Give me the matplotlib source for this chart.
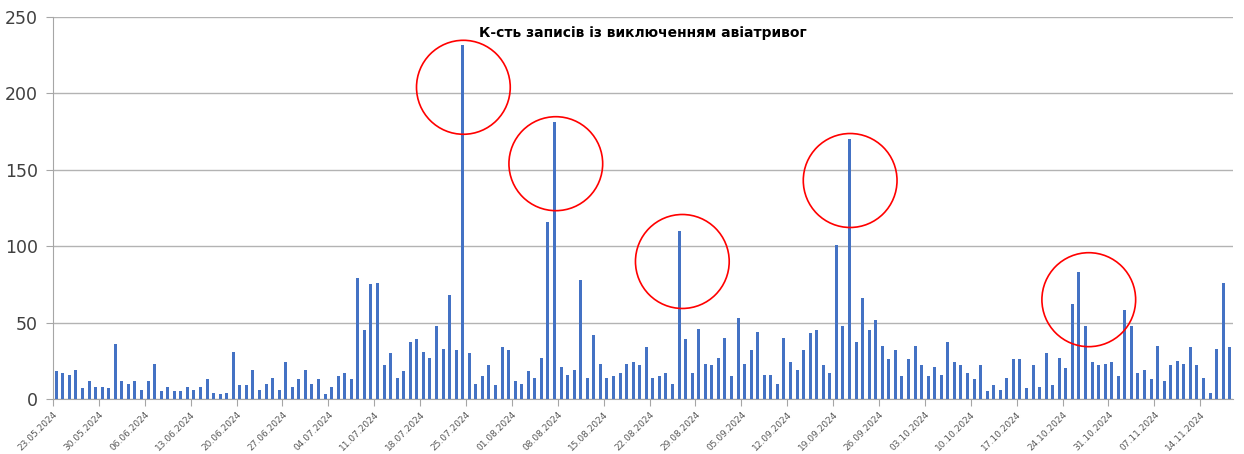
import numpy as np
import pandas as pd
import matplotlib
matplotlib.use("Agg")
import matplotlib.pyplot as plt
from matplotlib.patches import Ellipse

# Дані: кількість записів по днях, починаючи з 23.05.2024
start_date = "2024-05-23"
counts = [
    18, 17, 16, 19, 7, 12, 8, 8, 7, 36,
    12, 10, 12, 6, 12, 23, 5, 8, 5, 5,
    8, 6, 8, 13, 4, 3, 4, 31, 9, 9,
    19, 6, 10, 14, 6, 24, 8, 13, 19, 10,
    13, 3, 8, 15, 17, 13, 79, 45, 75, 76,
    22, 30, 14, 18, 37, 39, 31, 27, 48, 33,
    68, 32, 232, 30, 10, 15, 22, 9, 34, 32,
    12, 10, 18, 14, 27, 116, 181, 21, 16, 19,
    78, 14, 42, 23, 14, 15, 17, 23, 24, 22,
    34, 14, 15, 17, 10, 110, 39, 17, 46, 23,
    22, 27, 40, 15, 53, 23, 32, 44, 16, 16,
    10, 40, 24, 19, 32, 43, 45, 22, 17, 101,
    48, 170, 37, 66, 45, 52, 35, 26, 32, 15,
    26, 35, 22, 15, 21, 16, 37, 24, 22, 17,
    13, 22, 5, 9, 6, 14, 26, 26, 7, 22,
    8, 30, 9, 27, 20, 62, 83, 48, 24, 22,
    23, 24, 15, 58, 48, 17, 19, 13, 35, 12,
    22, 25, 23, 34, 22, 14, 4, 33, 76, 34,
]
title = "К-сть записів із виключенням авіатривог"

# Червоні кола навколо піків: (індекс дня, значення в центрі)
circles = [(62.6, 204), (76.7, 154), (96.0, 90), (121.6, 143), (158.0, 65)]

dates = pd.date_range(start_date, periods=len(counts), freq="D")
x = np.arange(len(counts)) + 0.5

fig = plt.figure(figsize=(12.44, 4.54), dpi=100)
ax = fig.add_axes([53 / 1244, 1 - 399 / 454, 1180 / 1244, 382 / 454])

ax.bar(x, counts, width=0.45, color="#4472C4", zorder=3)

ax.set_xlim(0, len(counts))
ax.set_ylim(0, 250)
ax.set_yticks(np.arange(0, 251, 50))
ax.yaxis.grid(True, color="#b3b3b3", linewidth=1.0, zorder=0)

tick_pos = np.arange(0, len(counts), 7)
ax.set_xticks(tick_pos)
ax.set_xticklabels([dates[i].strftime("%d.%m.%Y") for i in tick_pos],
                   rotation=45, ha="right", va="top", rotation_mode="anchor",
                   fontsize=6.5, color="#595959")

for s in ["top", "right"]:
    ax.spines[s].set_visible(False)
for s in ["left", "bottom"]:
    ax.spines[s].set_color("#a6a6a6")
ax.tick_params(axis="y", length=5, color="#a6a6a6", labelsize=12.5,
               labelcolor="#404040", pad=6)
ax.tick_params(axis="x", length=5, color="#a6a6a6", pad=3)

ax.text(0.5, 0.958, title, transform=ax.transAxes, ha="center", va="center",
        fontsize=10, fontweight="bold", color="#000000")

# Кола-позначки
for cx, cy in circles:
    ax.add_patch(Ellipse((cx, cy), width=14.3, height=61.5, fill=False,
                         edgecolor="#ff0000", linewidth=1.2, zorder=5,
                         clip_on=False))

fig.savefig("out.png", dpi=100)
